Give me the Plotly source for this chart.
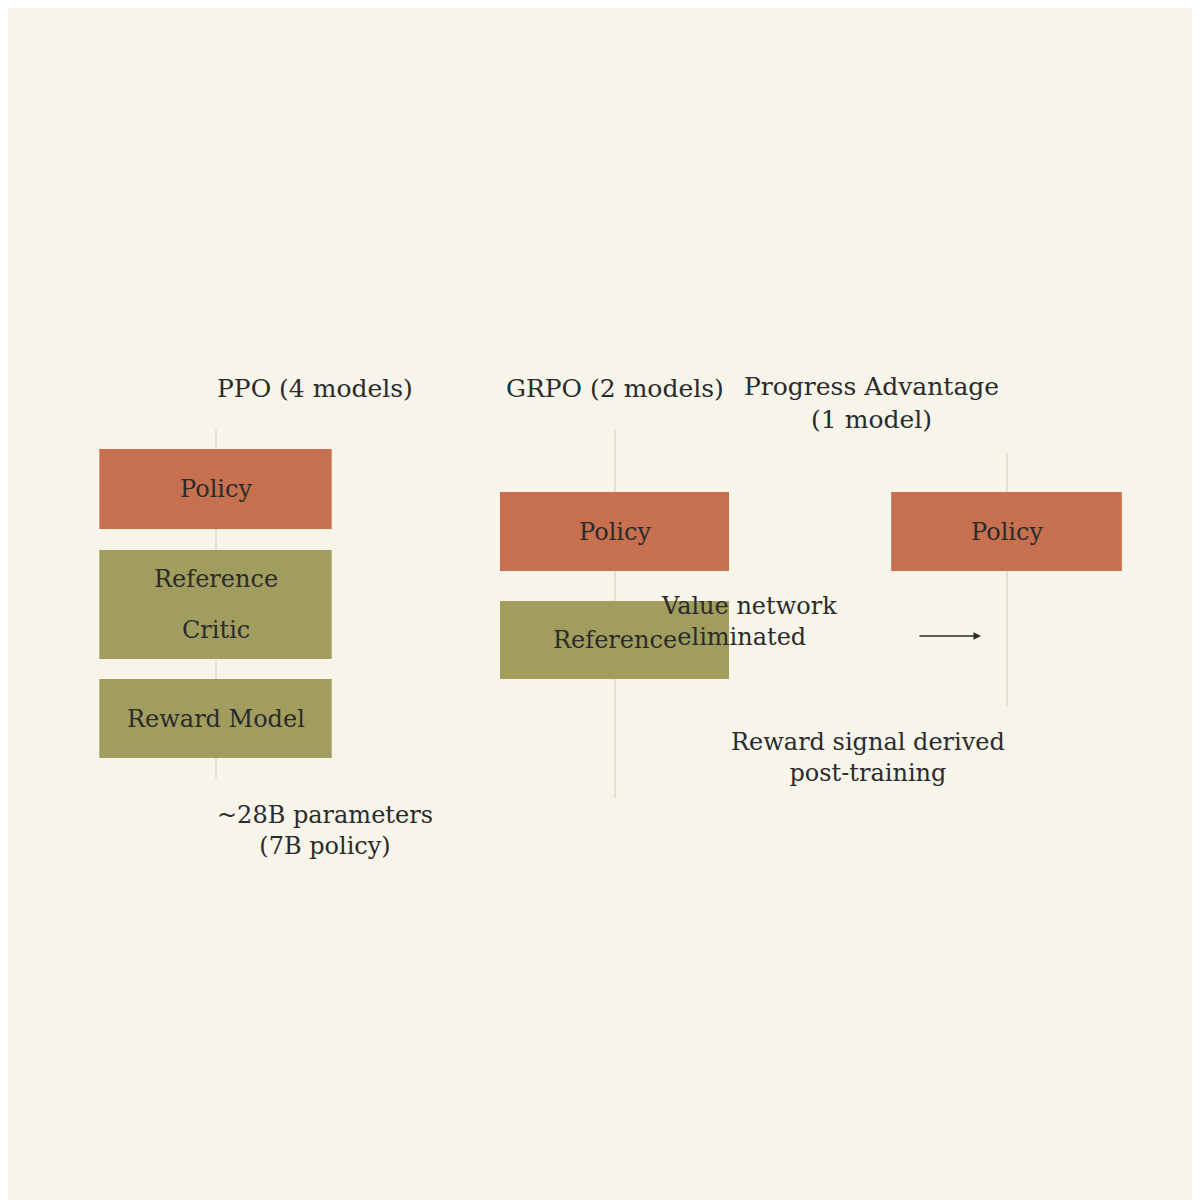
import plotly.graph_objects as go

BG = "#F7F4EA"
RED = "#C7704F"
OLIVE = "#A19D5F"
TXT = "#2b2b2b"
GRID = "#E4E0D3"
FONT = "DejaVu Serif"

titles = ["PPO (4 models)", "GRPO (2 models)", "Progress Advantage<br>(1 model)"]
# per panel: (label lines, top, height, colour)
panel_boxes = [
    [(["Policy"], 441, 80, RED), (["Reference", "Critic"], 542, 109, OLIVE), (["Reward Model"], 671, 79, OLIVE)],
    [(["Policy"], 484, 79, RED), (["Reference"], 593, 78, OLIVE)],
    [(["Policy"], 484, 79, RED)],
]
captions = ["~28B parameters<br>(7B policy)", "", "Reward signal derived<br>post-training"]

# layout geometry (pixels in 1200x1200 canvas)
x_spans = [(70, 345), (471, 742), (862, 1135)]
y_spans = [(422, 770), (422, 790), (445, 698)]
W = H = 1200

fig = go.Figure()
for i in range(3):
    ax = "" if i == 0 else str(i + 1)
    x0, x1 = x_spans[i]
    y0, y1 = y_spans[i]
    for lines, top, h, col in panel_boxes[i]:
        fig.add_trace(go.Bar(x=[0], y=[h], base=[top], width=1.69, marker_color=col,
                             marker_line_width=0, xaxis="x" + ax, yaxis="y" + ax,
                             showlegend=False, hoverinfo="skip"))
        n = len(lines)
        for k, t in enumerate(lines):
            yy = top + h / 2 + (k - (n - 1) / 2) * 51
            fig.add_annotation(x=0, y=yy, xref="x" + ax, yref="y" + ax, text=t, showarrow=False,
                               font=dict(family=FONT, size=24, color=TXT))
    fig.layout["xaxis" + ax] = dict(domain=[x0 / W, x1 / W], range=[-1, 1], tickvals=[-1, 0, 1],
                                    showticklabels=False, showgrid=True, gridcolor=GRID, gridwidth=1.5,
                                    zeroline=False, showline=False, ticks="", anchor="y" + ax, fixedrange=True)
    fig.layout["yaxis" + ax] = dict(domain=[1 - y1 / H, 1 - y0 / H], range=[y1, y0], visible=False,
                                    anchor="x" + ax, fixedrange=True)

title_pos = [(207, 380), (607, 380), (993, 395)]
for (tx, ty), t in zip(title_pos, titles):
    fig.add_annotation(x=tx / W, y=1 - ty / H, xref="paper", yref="paper", text=t, showarrow=False,
                       font=dict(family=FONT, size=25, color=TXT), yanchor="middle")
cap_pos = [(207, 822), (607, 822), (999, 749)]
for (tx, ty), t in zip(cap_pos, captions):
    if t:
        fig.add_annotation(x=tx / W, y=1 - ty / H, xref="paper", yref="paper", text=t, showarrow=False,
                           font=dict(family=FONT, size=24, color=TXT), yanchor="middle")

fig.add_annotation(x=831 / W, y=1 - 613 / H, xref="paper", yref="paper",
                   text="Value network<br>  eliminated", showarrow=False, align="left",
                   font=dict(family=FONT, size=24, color=TXT), yanchor="middle")
fig.add_annotation(x=973 / W, y=1 - 628 / H, xref="paper", yref="paper", ax=-63, ay=0,
                   axref="pixel", ayref="pixel", text="", showarrow=True, arrowhead=2,
                   arrowsize=1, arrowwidth=1.5, arrowcolor=TXT)

fig.update_layout(width=W, height=H, margin=dict(l=0, r=0, t=0, b=0),
                  paper_bgcolor=BG, plot_bgcolor=BG, barmode="overlay")
fig.write_html("out.html")
